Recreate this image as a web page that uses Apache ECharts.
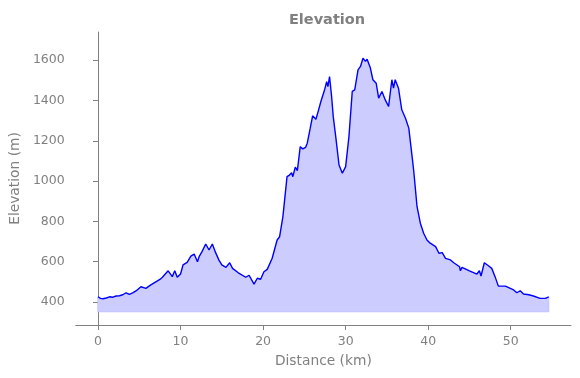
<!DOCTYPE html>
<html>
<head>
<meta charset="utf-8">
<script src="https://cdn.jsdelivr.net/npm/echarts@6/dist/echarts.min.js"></script>
<style>
  html, body { margin: 0; padding: 0; background: #fff; }
  #chart { width: 580px; height: 378px; }
</style>
</head>
<body>
<div id="chart"></div>
<script>
// distance along the route (km)
const distanceKm = [
  0.0, 0.3, 0.6, 1.0, 1.4, 1.8, 2.2, 2.6, 3.0, 3.4, 3.8, 4.2, 4.6, 5.2, 5.8, 6.4, 7.0, 7.5, 7.8, 8.0,
  8.5, 9.0, 9.3, 9.6, 10.0, 10.3, 10.8, 11.25, 11.65, 12.05, 12.25, 12.6, 13.05, 13.45, 13.85, 14.25, 14.65, 15.0, 15.5, 15.95,
  16.3, 17.0, 17.9, 18.3, 18.5, 18.9, 19.3, 19.7, 20.1, 20.5, 21.1, 21.7, 22.0, 22.4, 22.9, 23.2, 23.45, 23.6, 23.9, 24.15,
  24.5, 24.8, 25.15, 25.35, 25.7, 26.0, 26.4, 26.7, 27.0, 27.45, 27.7, 27.85, 28.05, 28.3, 28.5, 28.8, 29.2, 29.6, 30.0, 30.4,
  30.8, 31.1, 31.5, 31.8, 32.1, 32.4, 32.6, 33.0, 33.3, 33.7, 34.0, 34.4, 34.8, 35.2, 35.6, 35.8, 36.0, 36.4, 36.8, 37.25,
  37.65, 38.0, 38.25, 38.65, 39.05, 39.45, 39.85, 40.25, 40.9, 41.3, 41.7, 42.1, 42.7, 43.1, 43.8, 43.9, 44.1, 45.0, 45.9, 46.2,
  46.4, 46.8, 47.3, 47.7, 48.1, 48.5, 49.35, 50.35, 50.75, 51.15, 51.55, 52.2, 52.75, 53.55, 54.2, 54.6
];
// elevation (m)
const elevationM = [
  426, 418, 416, 420, 426, 424, 430, 431, 436, 446, 438, 445, 455, 476, 468, 485, 500, 512, 523, 518,
  555, 526, 555, 523, 539, 584, 597, 628, 638, 600, 625, 650, 688, 658, 688, 645, 608, 584, 572, 595,
  567, 545, 523, 533, 526, 489, 518, 513, 550, 562, 617, 708, 724, 824, 1022, 1030, 1042, 1022, 1069, 1052,
  1171, 1160, 1168, 1188, 1260, 1324, 1307, 1350, 1395, 1453, 1494, 1469, 1519, 1420, 1320, 1221, 1080, 1039, 1072, 1221,
  1445, 1453, 1552, 1569, 1610, 1594, 1605, 1561, 1503, 1486, 1412, 1445, 1403, 1370, 1503, 1461, 1503, 1461, 1354, 1312,
  1263, 1140, 1050, 873, 791, 741, 708, 692, 675, 642, 645, 617, 609, 595, 575, 555, 572, 555, 539, 555,
  529, 595, 580, 567, 526, 479, 479, 460, 446, 456, 440, 436, 430, 418, 418, 426
];
const fillBase = 352;
const xTicks = [0, 10, 20, 30, 40, 50];
const yTicks = [400, 600, 800, 1000, 1200, 1400, 1600];

const profile = distanceKm.map((d, i) => [d, elevationM[i]]);
const lastKm = distanceKm[distanceKm.length - 1];
// outline of the filled region (left, bottom and right edges)
const edge = [
  [0, elevationM[0]], [0, fillBase], [lastKm, fillBase], [lastKm, elevationM[elevationM.length - 1]]
];

const grey = "#808080";
const font = "DejaVu Sans";

const chart = echarts.init(document.getElementById("chart"), null, { renderer: "canvas" });

chart.setOption({
  animation: false,
  textStyle: { fontFamily: font },
  title: {
    text: "Elevation",
    left: 322,
    top: 8,
    textAlign: "center",
    textStyle: { fontFamily: font, fontSize: 14.5, fontWeight: "bold", color: grey },
  },
  grid: { left: 75, right: 9, top: 32, bottom: 53, containLabel: false },
  xAxis: {
    type: "value",
    min: -2.7,
    max: 57.3,
    name: "Distance (km)",
    nameLocation: "middle",
    nameGap: 29,
    nameTextStyle: { fontFamily: font, fontSize: 13.8, color: grey },
    splitLine: { show: false },
    axisLine: { show: true, onZero: false, lineStyle: { color: grey, width: 1 } },
    axisTick: { show: true, length: 5, customValues: xTicks, lineStyle: { color: grey } },
    axisLabel: { customValues: xTicks, color: grey, fontSize: 12.5, margin: 10, fontFamily: font, formatter: (v) => String(v) },
  },
  yAxis: {
    type: "value",
    min: 286,
    max: 1740,
    name: "Elevation (m)",
    nameLocation: "middle",
    nameGap: 52,
    nameTextStyle: { fontFamily: font, fontSize: 13.8, color: grey },
    splitLine: { show: false },
    axisLine: { show: true, lineStyle: { color: grey, width: 1 } },
    axisTick: { show: true, length: 5, customValues: yTicks, lineStyle: { color: grey } },
    axisLabel: { customValues: yTicks, color: grey, fontSize: 12.5, margin: 11, fontFamily: font, formatter: (v) => String(v) },
  },
  series: [
    {
      type: "line",
      data: edge,
      symbol: "none",
      silent: true,
      lineStyle: { color: "#aaaaff", width: 1 },
      z: 1,
    },
    {
      type: "line",
      data: profile,
      symbol: "none",
      lineStyle: { color: "#0000ff", width: 1.4 },
      areaStyle: { color: "#ccccff", opacity: 1, origin: fillBase },
      z: 2,
    },
  ],
});
</script>
</body>
</html>
